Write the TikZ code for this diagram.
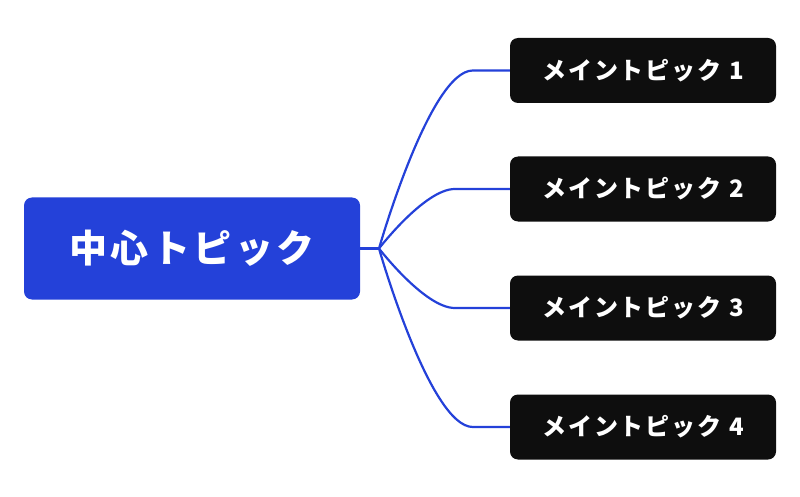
\documentclass[tikz,border=0pt]{standalone}
\usepackage{fontspec}
\newfontfamily\hubfont[LetterSpace=9]{Noto Sans CJK JP}
\newfontfamily\topicfont[LetterSpace=8]{Noto Sans CJK JP}
\usetikzlibrary{calc}
\definecolor{hubblue}{HTML}{2441D9}
\definecolor{topicblack}{HTML}{0E0E0E}
\tikzset{
  hub/.style={fill=hubblue, rounded corners=8pt, minimum width=336pt, minimum height=102pt,
    inner sep=0pt, text=white, font=\hubfont\bfseries\fontsize{38}{44}\selectfont},
  topic/.style={fill=topicblack, rounded corners=8pt, minimum width=266pt, minimum height=65pt,
    inner sep=0pt, text=white, font=\topicfont\bfseries\fontsize{24}{28}\selectfont},
  link/.style={draw=hubblue, line width=2.2pt}
}
\begin{document}
\begin{tikzpicture}[x=1pt,y=-1pt]
  \useasboundingbox (0,0) rectangle (800,497);
  \node[hub] (hub) at (192,248.5) {中心トピック};
  \node[topic] (t1) at (643,70.5) {メイントピック 1};
  \node[topic] (t2) at (643,189) {メイントピック 2};
  \node[topic] (t3) at (643,308) {メイントピック 3};
  \node[topic] (t4) at (643,427) {メイントピック 4};
  \coordinate (fork) at (379,248.5);
  \draw[link] (hub.east) -- (fork);
  % outer branches: long curve ending in a short straight run
  \draw[link] (fork) .. controls (fork) and ($(t1.west)+(-80,0)$) .. ($(t1.west)+(-37,0)$) -- (t1.west);
  \draw[link] (fork) .. controls (fork) and ($(t4.west)+(-80,0)$) .. ($(t4.west)+(-37,0)$) -- (t4.west);
  % inner branches
  \draw[link] (fork) .. controls (fork) and ($(t2.west)+(-85,0)$) .. ($(t2.west)+(-55,0)$) -- (t2.west);
  \draw[link] (fork) .. controls (fork) and ($(t3.west)+(-85,0)$) .. ($(t3.west)+(-55,0)$) -- (t3.west);
\end{tikzpicture}
\end{document}
